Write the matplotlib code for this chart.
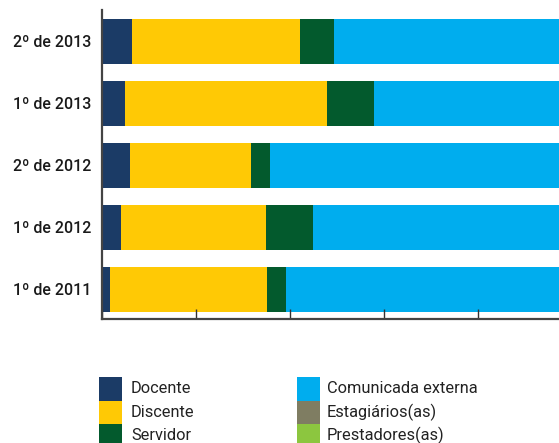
import matplotlib
matplotlib.use("Agg")
import matplotlib.pyplot as plt
from matplotlib.patches import Rectangle

plt.rcParams['font.family'] = ['Roboto', 'DejaVu Sans']

categories = ['1º de 2011', '1º de 2012', '2º de 2012', '1º de 2013', '2º de 2013']
docente = [1.6, 4.0, 5.9, 4.9, 6.4]
discente = [33.6, 30.9, 25.9, 42.9, 35.7]
servidor = [4.0, 9.9, 3.9, 10.1, 7.3]
externa = [60.8, 55.2, 64.3, 42.1, 50.6]
estagiarios = [0, 0, 0, 0, 0]
prestadores = [0, 0, 0, 0, 0]

series_names = ['Docente', 'Discente', 'Servidor', 'Comunicada externa',
                'Estagiários(as)', 'Prestadores(as)']
series_vals = [docente, discente, servidor, externa, estagiarios, prestadores]
colors = ['#1b3b66', '#ffc905', '#035a2d', '#00adee', '#7f7d62', '#8cc63f']
xticks = [0, 20, 40, 60, 80, 100]

W, H = 559, 443
fig = plt.figure(figsize=(W / 100, H / 100), dpi=100)
ax = fig.add_axes([102 / W, 1 - 319 / H, 470 / W, (319 - 10) / H])

ypos = list(range(len(categories)))
left = [0.0] * len(categories)
for name, vals, c in zip(series_names, series_vals, colors):
    ax.barh(ypos, vals, left=left, height=0.725, color=c, linewidth=0, label=name)
    left = [l + v for l, v in zip(left, vals)]

ax.set_xlim(0, 100)
ax.set_ylim(-0.475, 4.5)
ax.set_yticks(ypos)
ax.set_yticklabels(categories, fontsize=11.5, color='#1a1a1a', fontweight='medium')
ax.tick_params(axis='y', length=0, pad=8)
ax.set_xticks(xticks)
ax.set_xticklabels([])
ax.tick_params(axis='x', direction='in', length=7, width=1, color='#333333')
for s in ['top', 'right']:
    ax.spines[s].set_visible(False)
for s in ['left', 'bottom']:
    ax.spines[s].set_color('#444444')
    ax.spines[s].set_linewidth(1.6)

# legend (manual, two columns)
box_w, box_h = 23, 23.5
col_x = [99, 297]
text_x = [131, 327]
row_top = 377
for i, (name, c) in enumerate(zip(series_names, colors)):
    col = i // 3
    row = i % 3
    top = row_top + row * box_h
    fig.add_artist(Rectangle((col_x[col] / W, 1 - (top + box_h) / H), box_w / W, box_h / H,
                             transform=fig.transFigure, facecolor=c, edgecolor='none'))
    fig.text(text_x[col] / W, 1 - (top + box_h / 2) / H, name, fontsize=11.8,
             color='#222222', va='center', ha='left')

fig.savefig('out.png', dpi=100)
